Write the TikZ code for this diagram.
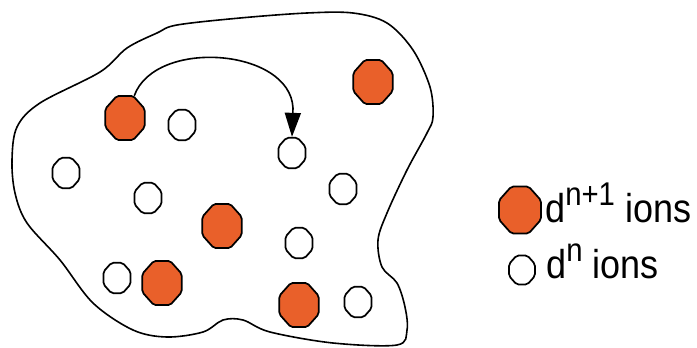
\documentclass[tikz,border=0pt]{standalone}
\usepackage{fontspec}
\setmainfont{Liberation Sans}
\usepackage{graphicx}
\usepackage{xcolor}
\usepackage{tikz}
\usetikzlibrary{arrows.meta,shapes.geometric}
\definecolor{ionorange}{HTML}{E9602A}
\tikzset{
  ion/.style={regular polygon, regular polygon sides=8, draw,
              line width=1.3pt, inner sep=0pt, rounded corners=1.5pt,
              yscale=1.12, transform shape},
  big/.style={ion, fill=ionorange, minimum size=32pt},
  small/.style={ion, fill=white, minimum size=22pt},
  hop/.style={line width=1.2pt, -{Triangle[length=18pt,width=12pt]}},
  lbl/.style={anchor=base west, inner sep=0pt, font=\fontsize{27}{30}\selectfont},
}
\newcommand{\sups}[1]{\raisebox{11pt}{\fontsize{22}{24}\selectfont #1}}

\begin{document}
\begin{tikzpicture}[x=0.75pt, y=-0.75pt]
  \useasboundingbox (0,0) rectangle (697,347);
  % region outline
  \draw[line width=1.2pt] plot[smooth cycle, tension=0.55] coordinates {
    (157,33) (177,25) (240,18) (307,13) (353,13) (387,23) (413,50)
    (430,87) (433,117) (427,133) (407,170) (387,213) (378,240) (382,267)
    (397,283) (405,307) (407,330) (397,345) (333,343) (270,332) (243,320)
    (223,320) (203,332) (167,337) (133,330) (93,303) (60,260) (27,223)
    (15,193) (12,160) (17,127) (40,103) (100,72) (127,48)};
  % d^{n+1} ions
  \node[big] (o1) at (125,118) {};
  \node[big] (o2) at (373,82) {};
  \node[big] (o3) at (222,226) {};
  \node[big] (o4) at (162,283) {};
  \node[big] (o5) at (299,305) {};
  % d^n ions
  \node[small] (w1) at (182,125) {};
  \node[small] (w2) at (292,153) {};
  \node[small] (w3) at (66,173) {};
  \node[small] (w4) at (148,198) {};
  \node[small] (w5) at (343,189) {};
  \node[small] (w6) at (299,243) {};
  \node[small] (w7) at (117,278) {};
  \node[small] (w8) at (358,302) {};
  % electron hop
  \draw[hop] (o1.65) .. controls (155,38) and (290,48) .. (293,108)
    -- (w2.north);
  % legend
  \node[big, minimum size=34pt] (kbig) at (520,210) {};
  \node[small, minimum size=21pt] (ksmall) at (522,270) {};
  \node[lbl] (tbig) at (545,222)
    {\scalebox{1}[1.12]{d\sups{n+1} ions}};
  \node[lbl] (tsmall) at (546,278)
    {\scalebox{1}[1.12]{d\sups{n} ions}};
\end{tikzpicture}
\end{document}
